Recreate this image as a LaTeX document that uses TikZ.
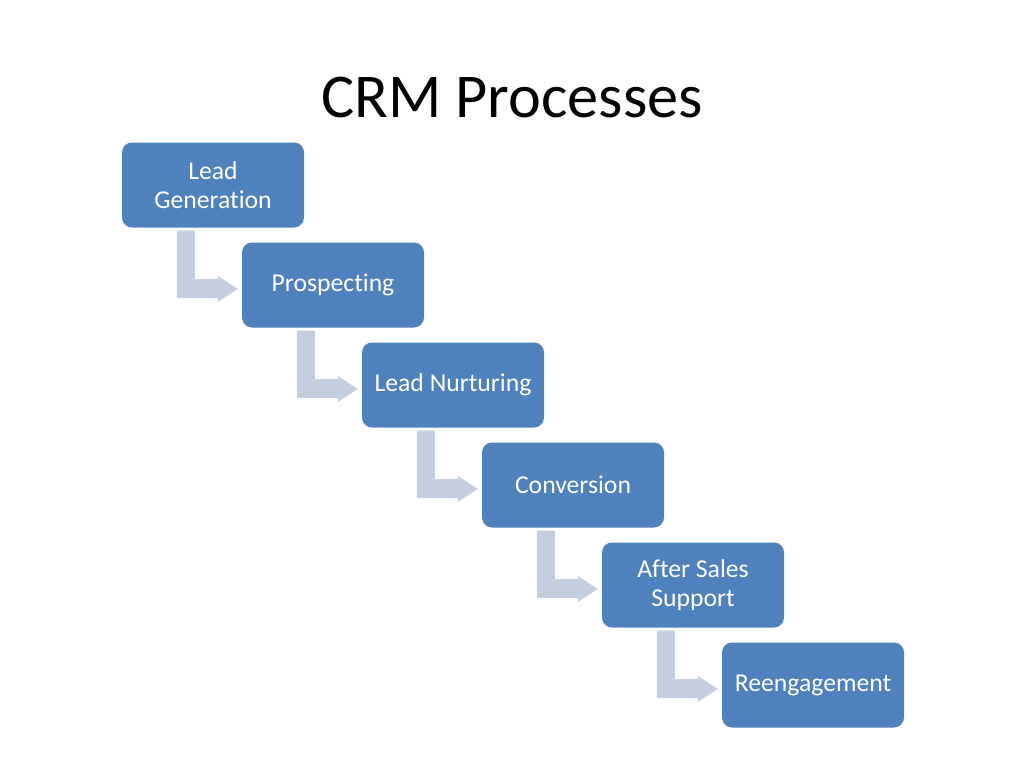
\documentclass[tikz,border=0pt]{standalone}
\usepackage{fontspec}
\setmainfont{Carlito}[Ligatures=NoCommon]
\usetikzlibrary{calc}
\definecolor{boxblue}{HTML}{4F81BD}
\definecolor{arrowgray}{HTML}{C5CEE0}
\tikzset{
  stepbox/.style={draw=none, fill=boxblue, rounded corners=10pt, minimum width=182pt, minimum height=85pt,
    inner sep=0pt, align=center, text=white, font=\fontsize{25.7}{29}\selectfont},
  bentarrow/.style={fill=arrowgray, draw=none}
}
\begin{document}
\begin{tikzpicture}[x=1pt,y=-1pt]
\useasboundingbox (0,0) rectangle (1024,768);
\fill[white] (0,0) rectangle (1024,768);
\node[anchor=base, font=\fontsize{62.3}{70}\selectfont] (title) at (512,117) {CRM Processes};
\node[stepbox] (s1) at (213,185) {Lead\\Generation};
\node[stepbox] (s2) at (333,285) {Prospecting};
\node[stepbox] (s3) at (453,385) {Lead Nurturing};
\node[stepbox] (s4) at (573,485) {Conversion};
\node[stepbox] (s5) at (693,585) {After Sales\\Support};
\node[stepbox] (s6) at (813,685) {Reengagement};
\foreach \a/\b in {s1/s2,s2/s3,s3/s4,s4/s5,s5/s6}{
  \fill[bentarrow] ($(\a.south west)+(55,3)$) -- ++(18,0) |- ($(\b.west)+(-24,-6)$) -- ++(0,-3)
    -- ($(\b.west)+(-4,4)$) -- ($(\b.west)+(-24,17)$) -- ++(0,-4) -| ($(\a.south west)+(55,3)$) -- cycle;
}
\end{tikzpicture}
\end{document}
